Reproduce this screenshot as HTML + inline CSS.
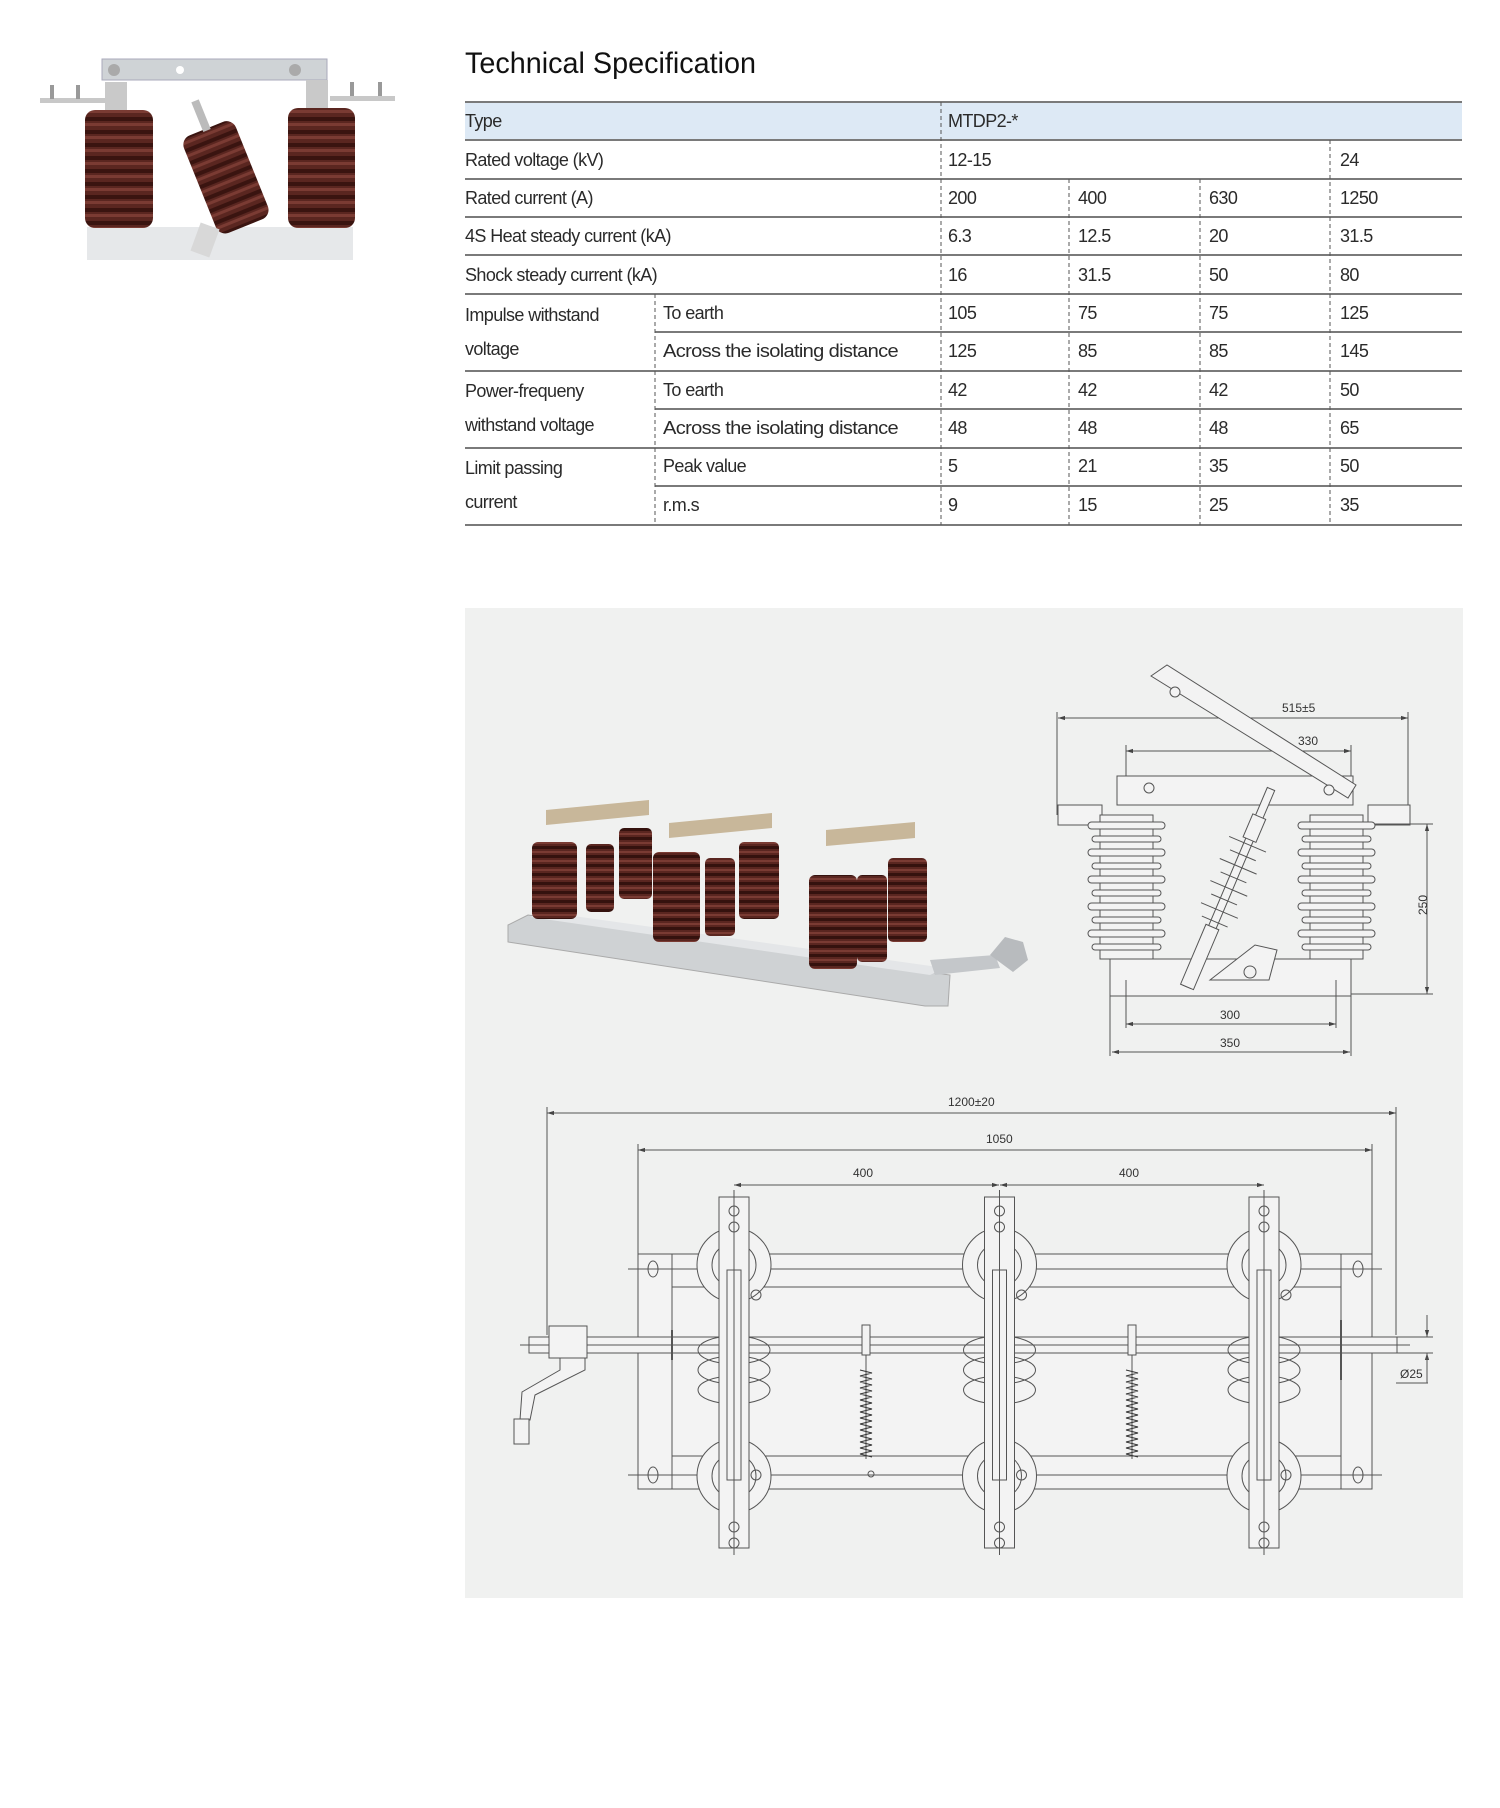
<!DOCTYPE html>
<html><head><meta charset="utf-8"><style>
html,body{margin:0;padding:0;background:#fff;}
svg{display:block;}
.t{font-family:"Liberation Sans Narrow","Liberation Sans",sans-serif;font-size:18px;fill:#2a2a2a;letter-spacing:-0.6px;}
.d{font-family:"Liberation Sans",sans-serif;font-size:12px;fill:#333;}
.ln{stroke:#555;stroke-width:1;fill:none;}
.lf{stroke:#555;stroke-width:1;fill:#f3f3f3;}
</style></head><body>
<svg width="1500" height="1808" viewBox="0 0 1500 1808" xmlns="http://www.w3.org/2000/svg">
<defs>
<pattern id="sh" patternUnits="userSpaceOnUse" width="200" height="13"><rect width="200" height="13" fill="#5a2620"/><rect y="0" width="200" height="4" fill="#3a1410"/><rect y="6" width="200" height="3" fill="#7a3b33"/></pattern>
<pattern id="sh2" patternUnits="userSpaceOnUse" width="200" height="9"><rect width="200" height="9" fill="#5a2620"/><rect width="200" height="3" fill="#35120e"/><rect y="5" width="200" height="2" fill="#7a3b33"/></pattern>
<marker id="a" viewBox="0 0 10 10" refX="10" refY="5" markerWidth="7" markerHeight="7" orient="auto-start-reverse"><path d="M0,2 L10,5 L0,8z" fill="#444"/></marker>
</defs>

<!-- Top-left product photo -->
<g>
<rect x="102" y="59" width="225" height="21" fill="#cfd3d6" stroke="#aab" />
<circle cx="114" cy="70" r="6" fill="#aaa"/><circle cx="180" cy="70" r="4" fill="#fff"/><circle cx="295" cy="70" r="6" fill="#aaa"/>
<rect x="40" y="98" width="80" height="5" fill="#c8c8c8"/><rect x="330" y="96" width="65" height="5" fill="#c8c8c8"/>
<rect x="50" y="85" width="4" height="14" fill="#999"/><rect x="76" y="85" width="4" height="14" fill="#999"/>
<rect x="350" y="82" width="4" height="14" fill="#999"/><rect x="378" y="82" width="4" height="14" fill="#999"/>
<rect x="105" y="82" width="22" height="28" fill="#c9c9c9"/><rect x="306" y="80" width="22" height="30" fill="#c9c9c9"/>
<rect x="87" y="227" width="266" height="33" fill="#e6e8ea"/>
<rect x="85" y="110" width="68" height="118" rx="10" fill="url(#sh)"/>
<rect x="288" y="108" width="67" height="120" rx="10" fill="url(#sh)"/>
<g transform="translate(225,175) rotate(-22)"><rect x="-28" y="-50" width="56" height="105" rx="10" fill="url(#sh)"/><rect x="-4" y="-80" width="8" height="32" fill="#bbb"/></g>
<rect x="195" y="225" width="20" height="30" fill="#d8d8d8" transform="rotate(20 205 240)"/>
</g>

<!-- Title -->
<text x="465" y="73" font-family="Liberation Sans Narrow, Liberation Sans, sans-serif" font-size="30" fill="#111" textLength="291" lengthAdjust="spacingAndGlyphs">Technical Specification</text>

<!-- Table -->
<rect x="465" y="102" width="997" height="38" fill="#dde9f5"/>
<g stroke="#7a7a7a" stroke-width="2">
<line x1="465" y1="102" x2="1462" y2="102"/><line x1="465" y1="140" x2="1462" y2="140"/>
<line x1="465" y1="179" x2="1462" y2="179"/><line x1="465" y1="217" x2="1462" y2="217"/>
<line x1="465" y1="255" x2="1462" y2="255"/><line x1="465" y1="294" x2="1462" y2="294"/>
<line x1="655" y1="332" x2="1462" y2="332"/><line x1="465" y1="371" x2="1462" y2="371"/>
<line x1="655" y1="409" x2="1462" y2="409"/><line x1="465" y1="448" x2="1462" y2="448"/>
<line x1="655" y1="486" x2="1462" y2="486"/><line x1="465" y1="525" x2="1462" y2="525"/>
</g>
<g stroke="#555" stroke-width="1" stroke-dasharray="4,3">
<line x1="941" y1="102" x2="941" y2="525"/>
<line x1="1330" y1="140" x2="1330" y2="525"/>
<line x1="1069" y1="179" x2="1069" y2="525"/>
<line x1="1200" y1="179" x2="1200" y2="525"/>
<line x1="655" y1="294" x2="655" y2="525"/>
</g>
<g class="t">
<text x="465" y="127">Type</text><text x="948" y="127">MTDP2-*</text>
<text x="465" y="166">Rated voltage (kV)</text><text x="948" y="166">12-15</text><text x="1340" y="166">24</text>
<text x="465" y="204">Rated current (A)</text><text x="948" y="204">200</text><text x="1078" y="204">400</text><text x="1209" y="204">630</text><text x="1340" y="204">1250</text>
<text x="465" y="242">4S Heat steady current (kA)</text><text x="948" y="242">6.3</text><text x="1078" y="242">12.5</text><text x="1209" y="242">20</text><text x="1340" y="242">31.5</text>
<text x="465" y="281">Shock steady current (kA)</text><text x="948" y="281">16</text><text x="1078" y="281">31.5</text><text x="1209" y="281">50</text><text x="1340" y="281">80</text>
<text x="465" y="321">Impulse withstand</text><text x="465" y="355">voltage</text>
<text x="663" y="319">To earth</text><text x="948" y="319">105</text><text x="1078" y="319">75</text><text x="1209" y="319">75</text><text x="1340" y="319">125</text>
<text x="663" y="357" textLength="235" lengthAdjust="spacingAndGlyphs">Across the isolating distance</text><text x="948" y="357">125</text><text x="1078" y="357">85</text><text x="1209" y="357">85</text><text x="1340" y="357">145</text>
<text x="465" y="397">Power-frequeny</text><text x="465" y="431">withstand voltage</text>
<text x="663" y="396">To earth</text><text x="948" y="396">42</text><text x="1078" y="396">42</text><text x="1209" y="396">42</text><text x="1340" y="396">50</text>
<text x="663" y="434" textLength="235" lengthAdjust="spacingAndGlyphs">Across the isolating distance</text><text x="948" y="434">48</text><text x="1078" y="434">48</text><text x="1209" y="434">48</text><text x="1340" y="434">65</text>
<text x="465" y="474">Limit passing</text><text x="465" y="508">current</text>
<text x="663" y="472">Peak value</text><text x="948" y="472">5</text><text x="1078" y="472">21</text><text x="1209" y="472">35</text><text x="1340" y="472">50</text>
<text x="663" y="511">r.m.s</text><text x="948" y="511">9</text><text x="1078" y="511">15</text><text x="1209" y="511">25</text><text x="1340" y="511">35</text>
</g>

<!-- Gray panel -->
<rect x="465" y="608" width="998" height="990" fill="#f0f1f0"/>

<!-- Panel photo -->
<g>
<polygon points="508,925 528,915 950,975 948,1006 925,1006 508,942" fill="#cfd2d4" stroke="#aaa"/>
<polygon points="530,917 545,912 945,968 930,975" fill="#e4e6e8"/>
<polygon points="546,810 649,800 649,815 546,825" fill="#c8b79a"/>
<polygon points="669,823 772,813 772,828 669,838" fill="#c8b79a"/>
<polygon points="826,830 915,822 915,838 826,846" fill="#c8b79a"/>
<rect x="532" y="842" width="45" height="77" rx="6" fill="url(#sh2)"/>
<rect x="586" y="844" width="28" height="68" rx="5" fill="url(#sh2)"/>
<rect x="619" y="828" width="33" height="71" rx="5" fill="url(#sh2)"/>
<rect x="653" y="852" width="47" height="90" rx="6" fill="url(#sh2)"/>
<rect x="705" y="858" width="30" height="78" rx="5" fill="url(#sh2)"/>
<rect x="739" y="842" width="40" height="77" rx="5" fill="url(#sh2)"/>
<rect x="809" y="875" width="48" height="94" rx="6" fill="url(#sh2)"/>
<rect x="857" y="875" width="30" height="87" rx="5" fill="url(#sh2)"/>
<rect x="888" y="858" width="39" height="84" rx="5" fill="url(#sh2)"/>
<polygon points="930,960 995,955 1000,968 935,975" fill="#c4c7ca"/>
<path d="M990,955 l15,-18 l18,5 l5,18 l-15,12z" fill="#b8bbbe"/>
</g>

<!-- Side view -->
<g class="ln">
<line x1="1058" y1="718" x2="1408" y2="718" marker-start="url(#a)" marker-end="url(#a)"/>
<line x1="1126" y1="751" x2="1351" y2="751" marker-start="url(#a)" marker-end="url(#a)"/>
<line x1="1057" y1="712" x2="1057" y2="815"/><line x1="1408" y1="712" x2="1408" y2="815"/>
<line x1="1126" y1="745" x2="1126" y2="776"/><line x1="1351" y1="745" x2="1351" y2="776"/>
<rect x="1117" y="776" width="236" height="29" class="lf"/>
<polygon points="1151,676 1167,665 1356,785 1348,798" class="lf"/>
<rect x="1058" y="805" width="44" height="20" class="lf"/><rect x="1368" y="805" width="42" height="20" class="lf"/>
<rect x="1110" y="959" width="241" height="37" class="lf"/>
<line x1="1110" y1="996" x2="1110" y2="1056"/><line x1="1351" y1="996" x2="1351" y2="1056"/>
<line x1="1126" y1="980" x2="1126" y2="1028"/><line x1="1336" y1="980" x2="1336" y2="1028"/>
<line x1="1126" y1="1024" x2="1336" y2="1024" marker-start="url(#a)" marker-end="url(#a)"/>
<line x1="1112" y1="1052" x2="1350" y2="1052" marker-start="url(#a)" marker-end="url(#a)"/>
<line x1="1427" y1="824" x2="1427" y2="994" marker-start="url(#a)" marker-end="url(#a)"/>
<line x1="1375" y1="824" x2="1433" y2="824"/><line x1="1351" y1="994" x2="1433" y2="994"/>
</g>
<g fill="#f3f3f3" stroke="#555">
<rect x="1100" y="815" width="53" height="144"/>
<rect x="1088" y="822" width="77" height="7" rx="3.5"/><rect x="1092" y="836" width="69" height="6" rx="3"/>
<rect x="1088" y="849" width="77" height="7" rx="3.5"/><rect x="1092" y="863" width="69" height="6" rx="3"/>
<rect x="1088" y="876" width="77" height="7" rx="3.5"/><rect x="1092" y="890" width="69" height="6" rx="3"/>
<rect x="1088" y="903" width="77" height="7" rx="3.5"/><rect x="1092" y="917" width="69" height="6" rx="3"/>
<rect x="1088" y="930" width="77" height="7" rx="3.5"/><rect x="1092" y="944" width="69" height="6" rx="3"/>
<rect x="1310" y="815" width="53" height="144"/>
<rect x="1298" y="822" width="77" height="7" rx="3.5"/><rect x="1302" y="836" width="69" height="6" rx="3"/>
<rect x="1298" y="849" width="77" height="7" rx="3.5"/><rect x="1302" y="863" width="69" height="6" rx="3"/>
<rect x="1298" y="876" width="77" height="7" rx="3.5"/><rect x="1302" y="890" width="69" height="6" rx="3"/>
<rect x="1298" y="903" width="77" height="7" rx="3.5"/><rect x="1302" y="917" width="69" height="6" rx="3"/>
<rect x="1298" y="930" width="77" height="7" rx="3.5"/><rect x="1302" y="944" width="69" height="6" rx="3"/>
<g transform="translate(1271,789) rotate(23)">
<rect x="-4" y="0" width="8" height="215"/><rect x="-7" y="30" width="14" height="25"/>
<line x1="-20" y1="60" x2="20" y2="60"/><line x1="-14" y1="72" x2="14" y2="72"/><line x1="-20" y1="84" x2="20" y2="84"/><line x1="-14" y1="96" x2="14" y2="96"/><line x1="-20" y1="108" x2="20" y2="108"/><line x1="-14" y1="120" x2="14" y2="120"/><line x1="-20" y1="132" x2="20" y2="132"/><line x1="-14" y1="144" x2="14" y2="144"/>
<rect x="-7" y="150" width="14" height="65"/>
</g>
<path d="M1210,980 l45,-35 l22,5 l-8,30 l-40,0z"/>
<circle cx="1250" cy="972" r="6"/>
<circle cx="1149" cy="788" r="5"/><circle cx="1329" cy="790" r="5"/><circle cx="1175" cy="692" r="5"/>
</g>
<g class="d"><text x="1282" y="712">515±5</text><text x="1298" y="745">330</text><text x="1220" y="1019">300</text><text x="1220" y="1047">350</text>
<text x="1420" y="922" transform="rotate(-90 1420 915)">250</text></g>

<!-- Top view -->
<g class="ln">
<line x1="547" y1="1113" x2="1396" y2="1113" marker-start="url(#a)" marker-end="url(#a)"/>
<line x1="547" y1="1107" x2="547" y2="1335"/><line x1="1396" y1="1107" x2="1396" y2="1335"/>
<line x1="638" y1="1150" x2="1372" y2="1150" marker-start="url(#a)" marker-end="url(#a)"/>
<line x1="638" y1="1144" x2="638" y2="1254"/><line x1="1372" y1="1144" x2="1372" y2="1254"/>
<line x1="734" y1="1185" x2="999" y2="1185" marker-start="url(#a)" marker-end="url(#a)"/>
<line x1="1000" y1="1185" x2="1264" y2="1185" marker-start="url(#a)" marker-end="url(#a)"/>
<rect x="638" y="1254" width="734" height="235" class="lf"/>
<line x1="672" y1="1254" x2="672" y2="1489"/><line x1="1341" y1="1254" x2="1341" y2="1489"/>
<line x1="672" y1="1287" x2="1341" y2="1287"/><line x1="672" y1="1456" x2="1341" y2="1456"/>
<line x1="672" y1="1287" x2="672" y2="1456"/>
<line x1="628" y1="1269" x2="1382" y2="1269"/><line x1="628" y1="1475" x2="1382" y2="1475"/>
<ellipse cx="653" cy="1269" rx="5" ry="8"/><ellipse cx="653" cy="1475" rx="5" ry="8"/>
<ellipse cx="1358" cy="1269" rx="5" ry="8"/><ellipse cx="1358" cy="1475" rx="5" ry="8"/>
<rect x="529" y="1337" width="868" height="16" class="lf"/>
<line x1="520" y1="1345" x2="1410" y2="1345"/>
<line x1="1341" y1="1320" x2="1341" y2="1380" stroke-width="2"/>
<line x1="672" y1="1330" x2="672" y2="1360" stroke-width="2"/>
<rect x="549" y="1326" width="38" height="32" class="lf"/>
<path d="M560,1358 L585,1358 L585,1370 L535,1395 L530,1420 L520,1420 L522,1392 L560,1370z" class="lf"/>
<rect x="514" y="1419" width="15" height="25" class="lf"/>
<line x1="1427" y1="1315" x2="1427" y2="1337" marker-end="url(#a)"/><line x1="1427" y1="1375" x2="1427" y2="1353" marker-end="url(#a)"/>
<line x1="1397" y1="1337" x2="1433" y2="1337"/><line x1="1397" y1="1353" x2="1433" y2="1353"/>
<line x1="1427" y1="1353" x2="1427" y2="1383"/><line x1="1396" y1="1383" x2="1428" y2="1383"/>
<line x1="866" y1="1325" x2="866" y2="1459"/><line x1="1132" y1="1325" x2="1132" y2="1459"/>
<path d="M860,1370 l12,3 l-12,3 l12,3 l-12,3 l12,3 l-12,3 l12,3 l-12,3 l12,3 l-12,3 l12,3 l-12,3 l12,3 l-12,3 l12,3 l-12,3 l12,3 l-12,3 l12,3 l-12,3 l12,3 l-12,3 l12,3 l-12,3 l12,3 l-12,3 l12,3 l-12,3 l12,3" stroke="#333"/>
<path d="M1126,1370 l12,3 l-12,3 l12,3 l-12,3 l12,3 l-12,3 l12,3 l-12,3 l12,3 l-12,3 l12,3 l-12,3 l12,3 l-12,3 l12,3 l-12,3 l12,3 l-12,3 l12,3 l-12,3 l12,3 l-12,3 l12,3 l-12,3 l12,3 l-12,3 l12,3 l-12,3 l12,3" stroke="#333"/>
<rect x="862" y="1325" width="8" height="30" class="lf"/><rect x="1128" y="1325" width="8" height="30" class="lf"/>
<circle cx="871" cy="1474" r="3"/>
</g>
<g class="ln">
<g id="p1">
<circle cx="734" cy="1265" r="37" class="lf"/><circle cx="734" cy="1265" r="22"/>
<circle cx="734" cy="1476" r="37" class="lf"/><circle cx="734" cy="1476" r="22"/>
<path d="M698,1350 a36,14 0 0 1 72,0 M698,1370 a36,14 0 0 1 72,0 M698,1390 a36,14 0 0 1 72,0 M698,1350 a36,14 0 0 0 72,0 M698,1370 a36,14 0 0 0 72,0 M698,1390 a36,14 0 0 0 72,0"/>
<rect x="719" y="1197" width="30" height="351" class="lf"/>
<rect x="727" y="1270" width="14" height="210"/>
<line x1="734" y1="1190" x2="734" y2="1555"/>
<circle cx="734" cy="1211" r="5"/><circle cx="734" cy="1227" r="5"/><circle cx="734" cy="1527" r="5"/><circle cx="734" cy="1543" r="5"/>
<circle cx="756" cy="1295" r="5"/><circle cx="756" cy="1475" r="5"/>
</g>
<use href="#p1" transform="translate(265.5,0)"/>
<use href="#p1" transform="translate(530,0)"/>
</g>
<g class="d">
<text x="948" y="1106">1200±20</text><text x="986" y="1143">1050</text>
<text x="853" y="1177">400</text><text x="1119" y="1177">400</text>
<text x="1400" y="1378">Ø25</text>
</g>
</svg>
</body></html>
